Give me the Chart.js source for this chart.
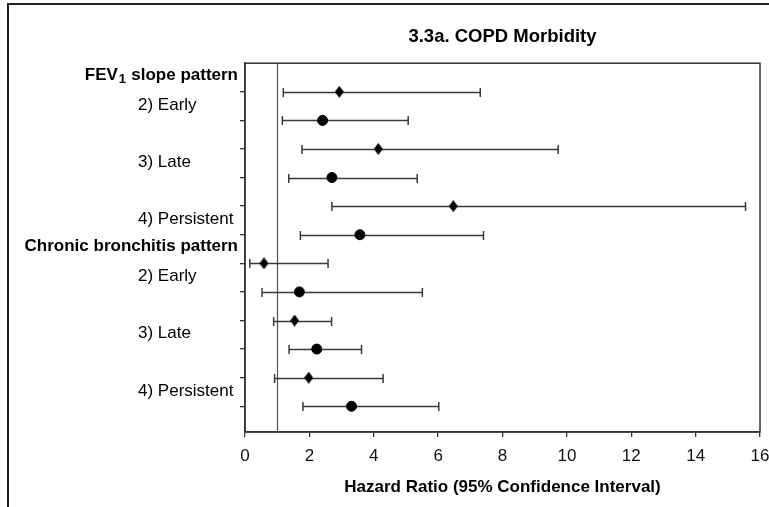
<!DOCTYPE html>
<html>
<head>
<meta charset="utf-8">
<script src="https://cdn.jsdelivr.net/npm/chart.js@4/dist/chart.umd.min.js"></script>
<style>
  html, body { margin: 0; padding: 0; background: #fff; }
</style>
</head>
<body>
<canvas id="forest" width="769" height="507"></canvas>
<script>
// DATA
const groups = ["FEV1 slope pattern", "Chronic bronchitis pattern"];
const categories = ["2) Early", "3) Late", "4) Persistent"];

// one row per marker, top to bottom (diamond, circle, diamond, circle ...)
const rows = [1, 2, 3, 4, 5, 6, 7, 8, 9, 10, 11, 12];
const hr = [2.93, 2.41, 4.14, 2.70, 6.47, 3.57, 0.59, 1.69, 1.54, 2.23, 1.98, 3.31];
const lo = [1.19, 1.16, 1.77, 1.36, 2.70, 1.72, 0.15, 0.53, 0.89, 1.37, 0.92, 1.80];
const hi = [7.31, 5.07, 9.73, 5.35, 15.55, 7.41, 2.58, 5.51, 2.69, 3.62, 4.29, 6.02];

const xTicks = [0, 2, 4, 6, 8, 10, 12, 14, 16];

const FONT = "'Liberation Sans', Arial, sans-serif";
Chart.defaults.font.family = FONT;

// tall diamond marker
function diamond(w, h) {
  const c = document.createElement("canvas");
  c.width = w; c.height = h;
  const g = c.getContext("2d");
  g.fillStyle = "#000";
  g.beginPath();
  g.moveTo(w / 2, 0); g.lineTo(w, h / 2); g.lineTo(w / 2, h); g.lineTo(0, h / 2);
  g.closePath();
  g.fill();
  return c;
}

const diamonds = [], circles = [];
rows.forEach((r, i) => (i % 2 === 0 ? diamonds : circles).push({ x: hr[i], y: r }));

// FRAME, REFERENCE LINE, CI BARS, ROW LABELS
const forestPlot = {
  id: "forestPlot",
  beforeDraw(chart) {
    const ctx = chart.ctx;
    ctx.save();
    ctx.strokeStyle = "#222";
    ctx.lineWidth = 2;
    ctx.beginPath();
    ctx.moveTo(8, chart.height);
    ctx.lineTo(8, 4);
    ctx.lineTo(chart.width, 4);
    ctx.stroke();
    ctx.restore();
  },
  beforeDatasetsDraw(chart) {
    const { ctx, chartArea: a, scales: { x, y } } = chart;
    ctx.save();
    const x1 = Math.round(x.getPixelForValue(1)) + 0.5;
    ctx.strokeStyle = "#555";
    ctx.lineWidth = 1.2;
    ctx.beginPath();
    ctx.moveTo(x1, a.top);
    ctx.lineTo(x1, a.bottom);
    ctx.stroke();

    ctx.strokeStyle = "#3a3a3a";
    ctx.lineWidth = 1.5;
    rows.forEach((r, i) => {
      const py = Math.round(y.getPixelForValue(r)) + 0.5;
      const xa = x.getPixelForValue(lo[i]), xb = x.getPixelForValue(hi[i]);
      ctx.beginPath();
      ctx.moveTo(xa, py); ctx.lineTo(xb, py);
      ctx.moveTo(xa, py - 4.5); ctx.lineTo(xa, py + 4.5);
      ctx.moveTo(xb, py - 4.5); ctx.lineTo(xb, py + 4.5);
      ctx.stroke();
    });
    ctx.restore();
  },
  afterDraw(chart) {
    const { ctx, chartArea: a, scales: { y } } = chart;
    ctx.save();
    ctx.strokeStyle = "#333";
    ctx.lineWidth = 1.5;
    ctx.strokeRect(a.left, a.top, a.right - a.left, a.bottom - a.top);

    ctx.fillStyle = "#000";
    ctx.textBaseline = "middle";
    groups.forEach((gName, g) => {
      const first = g * categories.length * 2;
      // group header, right aligned, with subscript for FEV1
      const hy = y.getPixelForValue(rows[first] - 0.58);
      const right = a.left - 7;
      ctx.font = "bold 17px " + FONT;
      if (gName.startsWith("FEV1")) {
        const head = "FEV", tail = gName.slice(4);
        const wHead = ctx.measureText(head).width, wTail = ctx.measureText(tail).width;
        ctx.font = "bold 12px " + FONT;
        const wSub = ctx.measureText("1").width;
        let px = right - wHead - wSub - wTail - 2;
        ctx.textAlign = "left";
        ctx.font = "bold 17px " + FONT;
        ctx.fillText(head, px, hy);
        ctx.font = "bold 13px " + FONT;
        ctx.fillText("1", px + wHead + 1, hy + 4);
        ctx.font = "bold 17px " + FONT;
        ctx.fillText(tail, px + wHead + wSub + 2, hy);
      } else {
        ctx.textAlign = "right";
        ctx.fillText(gName, right, hy);
      }
      // category labels between their two rows
      ctx.font = "17px " + FONT;
      ctx.textAlign = "left";
      categories.forEach((cName, c) => {
        const i = first + c * 2;
        const cy = y.getPixelForValue((rows[i] + rows[i + 1]) / 2) - 1;
        ctx.fillText(cName, 138, cy);
      });
    });
    ctx.restore();
  }
};

new Chart(document.getElementById("forest"), {
  type: "scatter",
  data: {
    datasets: [
      { data: diamonds, pointStyle: diamond(9, 12), pointRadius: 5, backgroundColor: "#000", borderColor: "#000" },
      { data: circles, pointStyle: "circle", pointRadius: 5, backgroundColor: "#000", borderColor: "#000" }
    ]
  },
  plugins: [forestPlot],
  options: {
    responsive: false,
    animation: false,
    layout: { padding: { left: 0, right: 9, top: 0, bottom: 0 } },
    plugins: {
      legend: { display: false },
      tooltip: { enabled: false },
      title: {
        display: true,
        text: "3.3a. COPD Morbidity",
        fullSize: false,
        color: "#000",
        font: { size: 18.5, weight: "bold" },
        padding: { top: 26, bottom: 15 }
      }
    },
    scales: {
      x: {
        type: "linear",
        min: 0,
        max: 16,
        afterBuildTicks: s => { s.ticks = xTicks.map(v => ({ value: v })); },
        ticks: { color: "#111", font: { size: 17 }, padding: 9, maxRotation: 0 },
        grid: { drawOnChartArea: false, drawTicks: true, tickLength: 5, color: "#333", lineWidth: 1.3 },
        border: { color: "#333", width: 1.5 },
        title: {
          display: true,
          text: "Hazard Ratio (95% Confidence Interval)",
          color: "#000",
          font: { size: 17, weight: "bold" },
          padding: { top: 0, bottom: 9 }
        },
        afterFit: s => { s.height = 75; s.paddingLeft = 0; s.paddingRight = 0; }
      },
      y: {
        type: "linear",
        reverse: true,
        min: 0,
        max: 12.9,
        afterBuildTicks: s => { s.ticks = rows.map(v => ({ value: v })); },
        ticks: { display: false },
        grid: { drawOnChartArea: false, drawTicks: true, tickLength: 5, color: "#333", lineWidth: 1.3 },
        border: { color: "#333", width: 1.5 },
        afterFit: s => { s.width = 245; }
      }
    }
  }
});
</script>
</body>
</html>
